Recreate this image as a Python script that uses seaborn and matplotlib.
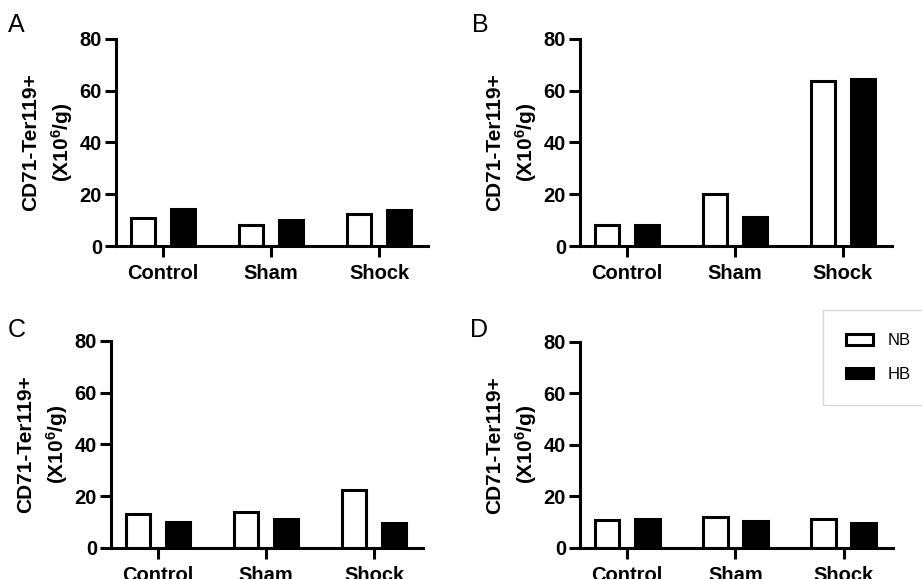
import matplotlib
matplotlib.use("Agg")
import matplotlib.pyplot as plt
import seaborn as sns
import pandas as pd

# values (x10^6/g)
groups = ["Control", "Sham", "Shock"]
a_nb = [11.0, 8.0, 12.2]
a_hb = [14.3, 10.0, 13.9]
b_nb = [8.1, 20.0, 63.8]
b_hb = [8.2, 11.2, 64.4]
c_nb = [13.0, 13.9, 22.2]
c_hb = [10.0, 11.2, 9.5]
d_nb = [10.6, 11.9, 11.3]
d_hb = [11.0, 10.4, 9.6]
letters = ["A", "B", "C", "D"]
y_ticks = [0, 20, 40, 60, 80]


def long_df(nb, hb):
    return pd.DataFrame({
        "group": groups * 2,
        "diet": ["NB"] * 3 + ["HB"] * 3,
        "value": nb + hb,
    })


sns.set_style("ticks")
plt.rcParams["font.family"] = ["Liberation Sans", "DejaVu Sans"]
plt.rcParams["mathtext.fontset"] = "custom"
plt.rcParams["mathtext.bf"] = "Liberation Sans:bold"
plt.rcParams["mathtext.rm"] = "Liberation Sans"
plt.rcParams["mathtext.default"] = "bf"
for k in ["text.color", "axes.labelcolor", "xtick.color", "ytick.color"]:
    plt.rcParams[k] = "black"

fig = plt.figure(figsize=(9.22, 5.79), dpi=100)

panels = [
    (long_df(a_nb, a_hb), [0.1258, 0.5751, 0.3384, 0.358]),
    (long_df(b_nb, b_hb), [0.629, 0.5751, 0.3384, 0.358]),
    (long_df(c_nb, c_hb), [0.1204, 0.0541, 0.3384, 0.357]),
    (long_df(d_nb, d_hb), [0.629, 0.0541, 0.3395, 0.3558]),
]
letter_pos = [(8, 32), (472, 32), (8, 337), (470, 337)]

palette = {"NB": "white", "HB": "black"}
handles = None
for i, (df, rect) in enumerate(panels):
    ax = fig.add_axes(rect)
    sns.barplot(data=df, x="group", y="value", hue="diet", hue_order=["NB", "HB"],
                palette=palette, width=0.74, gap=0.38, edgecolor="black",
                linewidth=2.2, ax=ax, legend=(i == 3))
    if i == 3:
        handles, labels = ax.get_legend_handles_labels()
        ax.get_legend().remove()
    ax.set_xlim(-0.435, 2.454)
    ax.set_ylim(0, 80)
    ax.set_yticks(y_ticks)
    ax.set_xlabel("")
    ax.set_ylabel("CD71-Ter119+\n(X10$^6$/g)", fontsize=15, fontweight="bold",
                  linespacing=1.45)
    ax.yaxis.set_label_coords(-0.132, 0.5)
    sns.despine(ax=ax)
    for s in ["left", "bottom"]:
        ax.spines[s].set_linewidth(2.2)
        ax.spines[s].set_color("black")
    ax.tick_params(axis="both", width=2.2, length=8, color="black",
                   labelsize=14.5)
    ax.tick_params(axis="x", pad=5)
    ax.tick_params(axis="y", pad=2)
    for lab in ax.get_xticklabels() + ax.get_yticklabels():
        lab.set_fontweight("bold")
    lx, ly = letter_pos[i]
    fig.text(lx / 922, 1 - ly / 579, letters[i], fontsize=18, va="baseline", ha="left")

leg = fig.legend(handles, ["NB", "HB"], loc="upper left",
                 bbox_to_anchor=(823 / 922, 1 - 310 / 579), fontsize=12,
                 frameon=True, fancybox=False, edgecolor="#cfcfcf",
                 handlelength=1.6, handleheight=0.6, labelspacing=1.1,
                 borderpad=1.4, handletextpad=0.9, borderaxespad=0)
leg.get_frame().set_linewidth(1.0)

fig.savefig("out.png", dpi=100)
